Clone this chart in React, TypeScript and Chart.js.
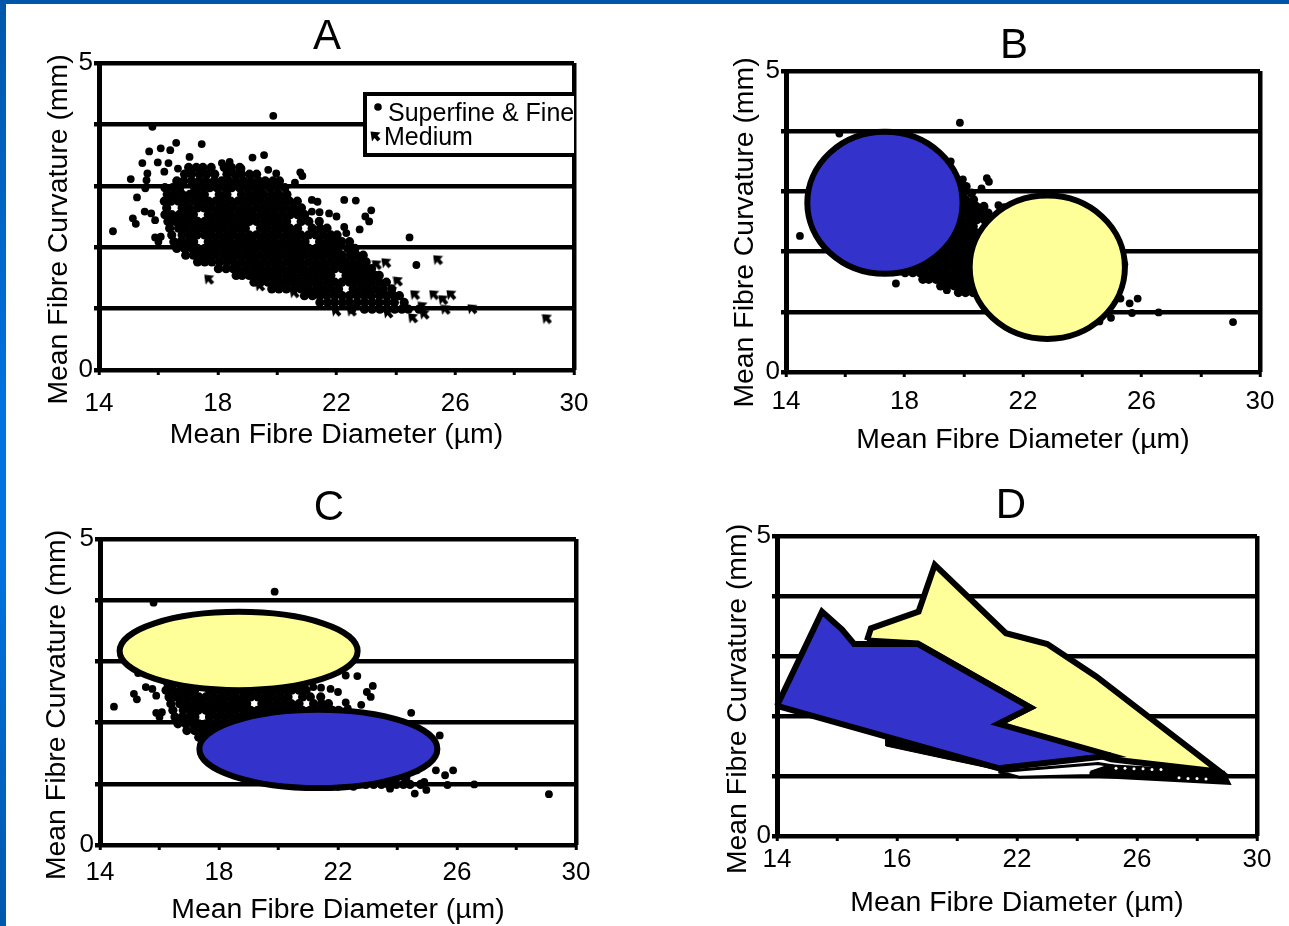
import React, { useEffect, useRef } from "react";
import { Chart, registerables } from "chart.js";

Chart.register(...registerables);

const xTicksABC = ["14", "18", "22", "26", "30"];
const xTicksABCAt = [14, 18, 22, 26, 30];
const xTicksD = ["14", "16", "22", "26", "30"];
const yTicks = [0, 5];
const panelLetters = ["A", "B", "C", "D"];
const xTitle = "Mean Fibre Diameter (µm)";
const yTitle = "Mean Fibre Curvature (mm)";
const fineLabel = "Superfine & Fine";
const mediumLabel = "Medium";

const fineOutliers = [
  [19.87, 4.14], [15.8, 3.96], [14.47, 2.26], [15.07, 3.11], [15.69, 3.56], [16.08, 3.61], [16.4, 3.58], [16.6, 3.7],
  [17.46, 3.68], [17.05, 3.47], [15.46, 3.37], [15.98, 3.38], [16.34, 3.37], [15.63, 3.2], [16.2, 3.23], [16.66, 3.28],
  [15.56, 2.96], [15.6, 3.09], [15.28, 2.81], [15.54, 2.58], [15.76, 2.55], [15.89, 2.44], [15.14, 2.47], [15.24, 2.38],
  [15.89, 2.16], [16.08, 2.17], [16.0, 2.09], [18.4, 3.39], [18.14, 3.37], [19.17, 3.46], [19.56, 3.5], [18.8, 3.28],
  [19.7, 3.26], [19.97, 3.2], [20.78, 3.22], [20.85, 3.16], [20.6, 3.05], [22.26, 2.77], [22.65, 2.76], [23.17, 2.6],
  [22.97, 2.5], [23.1, 2.42], [22.78, 2.29], [24.46, 2.16], [24.69, 1.71], [21.17, 2.77], [21.36, 2.74], [21.17, 2.58],
  [21.43, 2.57], [21.75, 2.55], [22.0, 2.5], [22.26, 2.33], [22.33, 2.23],
];

const mediumOutliers = [
  [25.42, 1.79], [17.71, 1.47], [29.09, 0.83], [24.65, 1.22], [25.29, 1.22], [25.87, 1.22], [25.6, 1.14], [26.58, 0.99],
  [24.58, 0.84], [24.9, 1.03], [24.97, 0.9], [25.68, 0.98], [23.68, 1.74], [23.36, 1.71], [23.04, 1.63], [24.07, 1.44],
  [23.88, 1.28], [23.75, 0.92], [22.0, 0.95], [22.52, 0.95], [19.43, 1.36], [20.59, 1.25], [20.98, 1.28],
];

const fineDense: [number, number[]][] = [
  [3.3, [17.02, 17.28, 17.5, 17.78, 18.22, 18.46, 18.74]],
  [3.19, [16.88, 17.12, 17.39, 17.63, 17.9, 18.31, 18.58, 18.8, 19.07, 19.31]],
  [3.08, [16.62, 16.85, 17.11, 17.37, 17.6, 17.88, 18.13, 18.38, 18.62, 18.87, 19.12, 19.38, 19.6, 19.86, 20.08]],
  [2.97, [16.22, 16.48, 16.72, 17.22, 17.48, 17.73, 17.97, 18.24, 18.47, 18.73, 18.98, 19.24, 19.47, 19.74, 19.99, 20.26]],
  [2.86, [16.3, 16.55, 16.8, 17.06, 17.3, 17.55, 18.05, 18.31, 18.8, 19.06, 19.31, 19.55, 19.81, 20.06, 20.33]],
  [2.75, [16.2, 16.43, 16.68, 16.93, 17.2, 17.43, 17.69, 17.93, 18.18, 18.44, 18.68, 18.93, 19.18, 19.43, 19.69, 19.93, 20.18, 20.42, 20.68]],
  [2.64, [16.28, 16.8, 17.04, 17.31, 17.55, 17.8, 18.06, 18.3, 18.55, 18.81, 19.05, 19.31, 19.56, 19.8, 20.05, 20.3, 20.56, 20.82]],
  [2.53, [16.22, 16.45, 16.7, 16.95, 17.18, 17.68, 17.94, 18.19, 18.43, 18.69, 18.94, 19.18, 19.44, 19.68, 19.93, 20.19, 20.44, 20.69, 20.93]],
  [2.42, [16.32, 16.57, 16.82, 17.06, 17.32, 17.56, 17.81, 18.07, 18.31, 18.56, 18.82, 19.06, 19.31, 19.57, 19.81, 20.06, 20.32, 20.81, 21.07, 21.42]],
  [2.31, [16.38, 16.68, 16.93, 17.19, 17.43, 17.69, 17.94, 18.18, 18.44, 18.69, 18.93, 19.44, 19.68, 19.94, 20.19, 20.43, 20.69, 21.18, 21.45, 21.68]],
  [2.2, [16.45, 16.8, 17.05, 17.3, 17.56, 17.8, 18.06, 18.31, 18.55, 18.81, 19.06, 19.3, 19.56, 19.81, 20.05, 20.31, 20.56, 20.8, 21.06, 21.31, 21.55, 21.81, 22.02]],
  [2.09, [16.52, 16.76, 17.0, 17.19, 17.68, 17.94, 18.19, 18.43, 18.69, 18.94, 19.18, 19.44, 19.69, 19.93, 20.19, 20.44, 20.68, 20.94, 21.43, 21.69, 21.94, 22.18]],
  [1.98, [16.62, 16.88, 17.12, 17.32, 17.56, 17.81, 18.07, 18.31, 18.56, 18.82, 19.06, 19.31, 19.57, 19.81, 20.06, 20.32, 20.56, 20.81, 21.07, 21.31, 21.56, 21.82, 22.06, 22.38]],
  [1.87, [16.92, 17.18, 17.44, 17.68, 17.93, 18.19, 18.44, 18.68, 18.94, 19.19, 19.43, 19.69, 19.94, 20.18, 20.44, 20.69, 20.93, 21.19, 21.44, 21.68, 21.94, 22.19, 22.46]],
  [1.76, [17.32, 17.56, 17.8, 18.06, 18.31, 18.55, 18.81, 19.06, 19.3, 19.56, 19.81, 20.05, 20.31, 20.56, 20.8, 21.06, 21.31, 21.55, 21.81, 22.06, 22.3]],
  [1.65, [18.02, 18.28, 18.52, 18.68, 18.94, 19.19, 19.43, 19.69, 19.94, 20.18, 20.44, 20.69, 20.93, 21.19, 21.44, 21.68, 21.94, 22.19, 22.43]],
  [1.54, [18.62, 18.82, 19.06, 19.31, 19.56, 19.81, 20.05, 20.31, 20.56, 20.82, 21.06, 21.31, 21.57, 21.81, 22.32]],
];

const mediumDense: [number, number[]][] = [
  [2.09, [22.44]],
  [1.98, [22.62]],
  [1.87, [22.68, 22.9]],
  [1.76, [22.55, 22.8, 23.0]],
  [1.65, [22.68, 22.92, 23.18]],
  [1.54, [22.56, 22.8, 23.06, 23.3, 23.44]],
  [1.43, [19.22, 19.44, 19.69, 19.93, 20.19, 20.44, 20.68, 20.94, 21.19, 21.43, 21.69, 21.94, 22.18, 22.44, 22.69, 22.93, 23.18, 23.44, 23.68]],
  [1.32, [19.82, 20.06, 20.31, 20.57, 20.81, 21.06, 21.32, 21.56, 21.81, 22.07, 22.56, 22.82, 23.06, 23.31, 23.57, 23.86]],
  [1.21, [20.92, 21.19, 21.44, 21.68, 21.94, 22.19, 22.43, 22.69, 22.94, 23.18, 23.44, 23.69, 23.93, 24.12]],
  [1.1, [21.44, 21.7, 21.94, 22.2, 22.44, 22.7, 22.95, 23.2, 23.44, 23.7, 23.95, 24.28]],
  [0.99, [22.52, 22.94, 23.2, 23.46, 23.7, 23.96, 24.2, 24.42, 24.78]],
];

// Panels B and C: centre x, centre y, x radius, y radius (data units)
const ellipsesB = [
  { cx: 17.34, cy: 2.81, rx: 2.62, ry: 1.18, fill: "#3333cc" },
  { cx: 22.82, cy: 1.74, rx: 2.62, ry: 1.19, fill: "#ffff99" },
];
const ellipsesC = [
  { cx: 18.66, cy: 3.17, rx: 4.0, ry: 0.64, fill: "#ffff99" },
  { cx: 21.34, cy: 1.57, rx: 4.0, ry: 0.64, fill: "#3333cc" },
];

// Panel D outlines
const yellowShapeX = [17.0, 17.13, 18.72, 19.26, 21.63, 23.01, 24.64, 28.77, 25.14, 21.38, 22.45, 18.69, 17.0];
const yellowShapeY = [3.26, 3.46, 3.74, 4.52, 3.38, 3.2, 2.66, 1.07, 1.28, 1.87, 2.14, 3.21, 3.26];
const blueShapeX = [14.0, 15.5, 16.17, 16.57, 18.69, 22.45, 21.38, 25.14, 21.38, 14.0];
const blueShapeY = [2.17, 3.74, 3.44, 3.2, 3.2, 2.14, 1.87, 1.34, 1.13, 2.17];
const sliverX = [21.38, 24.7, 25.08, 24.45, 22.07, 21.38];
const sliverY = [1.07, 1.21, 1.18, 1.01, 0.98, 1.07];
const tailX = [24.45, 25.08, 28.9, 29.1, 24.45, 24.45];
const tailY = [1.07, 1.18, 1.07, 0.87, 0.99, 1.07];
const tailSpeckX = [25.3, 25.6, 25.9, 26.2, 26.5, 26.8, 27.4, 27.7, 28.0, 28.3];
const tailSpeckY = [1.13, 1.13, 1.12, 1.12, 1.11, 1.11, 0.97, 0.96, 0.96, 0.95];
const edgeX = [17.63, 17.63, 19.4, 21.38, 21.38, 17.63];
const edgeY = [1.62, 1.5, 1.31, 1.1, 1.2, 1.62];

const expand = (rows: [number, number[]][]) => rows.flatMap(([y, xs]) => xs.map((x) => ({ x, y })));
const pairs = (list: number[][]) => list.map(([x, y]) => ({ x, y }));
const zip = (xs: number[], ys: number[]) => xs.map((x, i) => ({ x, y: ys[i] }));

const finePoints = [...pairs(fineOutliers), ...expand(fineDense)];
const mediumPoints = [...pairs(mediumOutliers), ...expand(mediumDense)];

const BLACK = "#000000";
const FONT = "'Liberation Sans', Arial, sans-serif";

function mediumMarker(): HTMLCanvasElement {
  const c = document.createElement("canvas");
  c.width = 11;
  c.height = 11;
  const g = c.getContext("2d")!;
  g.fillStyle = BLACK;
  g.beginPath();
  g.moveTo(0.5, 0.5);
  g.lineTo(10.5, 1.5);
  g.lineTo(7.5, 4.5);
  g.lineTo(10.5, 8);
  g.lineTo(7.5, 10.5);
  g.lineTo(4.5, 7);
  g.lineTo(2, 10.5);
  g.closePath();
  g.fill();
  return c;
}

const ellipsePlugin = {
  id: "ellipses",
  afterDatasetsDraw(chart: any, _a: any, opts: any) {
    const { x, y } = chart.scales;
    const g = chart.ctx;
    for (const e of opts.items || []) {
      const px = x.getPixelForValue(e.cx);
      const py = y.getPixelForValue(e.cy);
      const rx = Math.abs(x.getPixelForValue(e.cx + e.rx) - px);
      const ry = Math.abs(y.getPixelForValue(e.cy + e.ry) - py);
      g.save();
      g.beginPath();
      g.ellipse(px, py, rx, ry, 0, 0, Math.PI * 2);
      g.fillStyle = e.fill;
      g.fill();
      g.lineWidth = 6;
      g.strokeStyle = BLACK;
      g.stroke();
      g.restore();
    }
  },
};

const yTitlePlugin = {
  id: "yTitle",
  afterDraw(chart: any, _a: any, opts: any) {
    const g = chart.ctx;
    const { top, bottom } = chart.chartArea;
    g.save();
    g.translate(opts.x, (top + bottom) / 2 + opts.shift);
    g.rotate(-Math.PI / 2);
    g.font = `28.4px ${FONT}`;
    g.fillStyle = BLACK;
    g.textAlign = "center";
    g.textBaseline = "middle";
    g.fillText(opts.text, 0, 0);
    g.restore();
  },
};

const keyPlugin = {
  id: "keyBox",
  afterDatasetsDraw(chart: any, _a: any, opts: any) {
    if (!opts.show) return;
    const g = chart.ctx;
    const { right } = chart.chartArea;
    const { x } = chart.scales;
    const left = x.getPixelForValue(22.96);
    const top = 94;
    const bottom = 155;
    g.save();
    g.fillStyle = "#ffffff";
    g.fillRect(left, top, right - left, bottom - top);
    g.strokeStyle = BLACK;
    g.lineWidth = 4;
    g.beginPath();
    g.moveTo(right, top);
    g.lineTo(left, top);
    g.lineTo(left, bottom);
    g.lineTo(right, bottom);
    g.stroke();
    g.beginPath();
    g.rect(left, top, right - left + 2, bottom - top);
    g.clip();
    const sets = chart.data.datasets;
    g.fillStyle = BLACK;
    g.font = `25px ${FONT}`;
    g.textBaseline = "middle";
    g.textAlign = "left";
    g.beginPath();
    g.arc(left + 13, top + 13, 3.8, 0, Math.PI * 2);
    g.fill();
    g.fillText(sets[0].label, left + 23, top + 20);
    g.drawImage(sets[1].keyMarker, left + 5, top + 37);
    g.fillText(sets[1].label, left + 19, top + 44);
    g.restore();
  },
};

type Panel = {
  letter: string;
  left: number;
  width: number;
  height: number;
  titleLeft: number;
  plot: { l: number; t: number; r: number; b: number };
  titleY: number;
  tickPad: number;
  yTitleX: number;
  yShift: number;
  labels: string[];
  kind: "points" | "shapes";
  showKey?: boolean;
  ellipses?: typeof ellipsesB;
};

const panels: Panel[] = [
  { letter: panelLetters[0], left: 30, width: 594, height: 449, titleLeft: 80, plot: { l: 99, t: 63, r: 574, b: 370 }, titleY: 37, tickPad: 13, yTitleX: 59, yShift: 13, labels: xTicksABC, kind: "points", showKey: true },
  { letter: panelLetters[1], left: 716, width: 596, height: 454, titleLeft: 768, plot: { l: 786, t: 71, r: 1260, b: 372 }, titleY: 46, tickPad: 9, yTitleX: 745, yShift: 11, labels: xTicksABC, kind: "points", ellipses: ellipsesB },
  { letter: panelLetters[2], left: 30, width: 598, height: 924, titleLeft: 82, plot: { l: 100, t: 539, r: 576, b: 845 }, titleY: 508, tickPad: 7, yTitleX: 57, yShift: 13, labels: xTicksABC, kind: "points", ellipses: ellipsesC },
  { letter: panelLetters[3], left: 716, width: 590, height: 917, titleLeft: 765, plot: { l: 777, t: 536, r: 1257, b: 836 }, titleY: 506, tickPad: 3, yTitleX: 738, yShift: 13, labels: xTicksD, kind: "shapes" },
];

function datasetsFor(p: Panel, marker: HTMLCanvasElement): any[] {
  if (p.kind === "shapes") {
    const shape = (label: string, xs: number[], ys: number[], fill: string, width: number) => ({
      label,
      data: zip(xs, ys),
      showLine: true,
      fill: "shape",
      backgroundColor: fill,
      borderColor: BLACK,
      borderWidth: width,
      pointRadius: 0,
      clip: false,
    });
    return [
      shape("Medium region", blueShapeX, blueShapeY, "#3333cc", 6),
      shape("Superfine & Fine region", yellowShapeX, yellowShapeY, "#ffff99", 6),
      { label: "Tail specks", data: zip(tailSpeckX, tailSpeckY), backgroundColor: "#ffffff", pointRadius: 1.5, pointBorderWidth: 0 },
      shape("Tail", tailX, tailY, BLACK, 2),
      shape("Lower edge", sliverX, sliverY, "#ffffff", 3),
      shape("Edge", edgeX, edgeY, BLACK, 1),
    ];
  }
  const useMarker = !!p.showKey;
  const denseRadius = (outliers: number, dense: number, r: number) => (c: any) => (c.dataIndex >= outliers ? dense : r);
  return [
    {
      label: fineLabel,
      data: finePoints,
      backgroundColor: BLACK,
      borderColor: BLACK,
      pointRadius: denseRadius(fineOutliers.length, 4.6, 3.9),
      pointBorderWidth: 0,
      pointStyle: "circle",
      clip: false,
    },
    {
      label: mediumLabel,
      keyMarker: marker,
      data: mediumPoints,
      backgroundColor: BLACK,
      borderColor: BLACK,
      pointRadius: denseRadius(mediumOutliers.length, 4.6, useMarker ? 5 : 3.9),
      pointBorderWidth: 0,
      pointStyle: (c: any) => (useMarker && c.dataIndex < mediumOutliers.length ? marker : "circle"),
      clip: false,
    },
  ];
}

function PanelChart({ panel }: { panel: Panel }) {
  const ref = useRef<HTMLCanvasElement>(null);
  useEffect(() => {
    const p = panel;
    const marker = mediumMarker();
    const titleFont = 42;
    const chart = new Chart(ref.current!, {
      type: "scatter",
      data: { datasets: datasetsFor(p, marker) },
      plugins: [ellipsePlugin, yTitlePlugin, keyPlugin],
      options: {
        responsive: false,
        animation: false,
        events: [],
        layout: { padding: { right: p.left + p.width - p.plot.r, left: p.titleLeft - p.left, top: 0, bottom: 0 } },
        scales: {
          x: {
            type: "linear",
            min: 14,
            max: 30,
            afterFit: (s: any) => {
              s.height = p.height - p.plot.b;
            },
            ticks: {
              stepSize: 2,
              autoSkip: false,
              maxRotation: 0,
              minRotation: 0,
              padding: p.tickPad,
              color: BLACK,
              font: { family: FONT, size: 26 },
              callback: (v: any) => {
                const i = xTicksABCAt.indexOf(Number(v));
                return i >= 0 ? p.labels[i] : "";
              },
            },
            grid: {
              color: (c: any) => (c.tick && c.tick.value === 30 ? BLACK : "rgba(0,0,0,0)"),
              tickColor: BLACK,
              lineWidth: 4.5,
              tickWidth: 3,
              tickLength: 5,
            },
            border: { display: false },
            title: {
              display: true,
              text: xTitle,
              color: BLACK,
              font: { family: FONT, size: 28.4, lineHeight: 1 },
              padding: 0,
            },
          },
          y: {
            type: "linear",
            min: 0,
            max: 5,
            afterFit: (s: any) => {
              s.width = p.plot.l - p.titleLeft;
              // the narrow scale box is only there to centre the panel letter: let the labels overhang it
              s._computeLabelArea = () => null;
            },
            ticks: {
              stepSize: 1,
              padding: 1,
              color: BLACK,
              font: { family: FONT, size: 26 },
              callback: (v: any) => (yTicks.includes(Number(v)) ? String(v) : ""),
            },
            grid: { color: BLACK, lineWidth: 4.5, tickLength: 5 },
            border: { display: true, color: BLACK, width: 5 },
          },
        },
        plugins: {
          legend: { display: false },
          tooltip: { enabled: false },
          title: {
            display: true,
            text: p.letter,
            color: BLACK,
            font: { family: FONT, size: titleFont, weight: "normal", lineHeight: 1 },
            padding: { top: p.titleY - titleFont / 2, bottom: p.plot.t - p.titleY - titleFont / 2 },
          },
          ellipses: { items: p.ellipses || [] },
          yTitle: { text: yTitle, x: p.yTitleX - p.left, shift: p.yShift },
          keyBox: { show: !!p.showKey },
        },
      } as any,
    });
    return () => chart.destroy();
  }, [panel]);
  return (
    <canvas
      ref={ref}
      width={panel.width}
      height={panel.height}
      style={{ position: "absolute", left: panel.left, top: 0 }}
    />
  );
}

export default function App() {
  return (
    <div style={{ position: "fixed", left: 0, top: 0, width: 1289, height: 926, overflow: "hidden", background: "#ffffff" }}>
      <div style={{ position: "absolute", left: 0, top: 0, width: 1289, height: 4, background: "#0057aa" }} />
      <div
        style={{
          position: "absolute",
          left: 0,
          top: 0,
          width: 6,
          height: 926,
          background: "linear-gradient(180deg, #0057aa 0%, #0072e0 45%, #0072e0 60%, #0058ac 100%)",
        }}
      />
      {panels.map((p) => (
        <PanelChart key={p.letter} panel={p} />
      ))}
    </div>
  );
}
